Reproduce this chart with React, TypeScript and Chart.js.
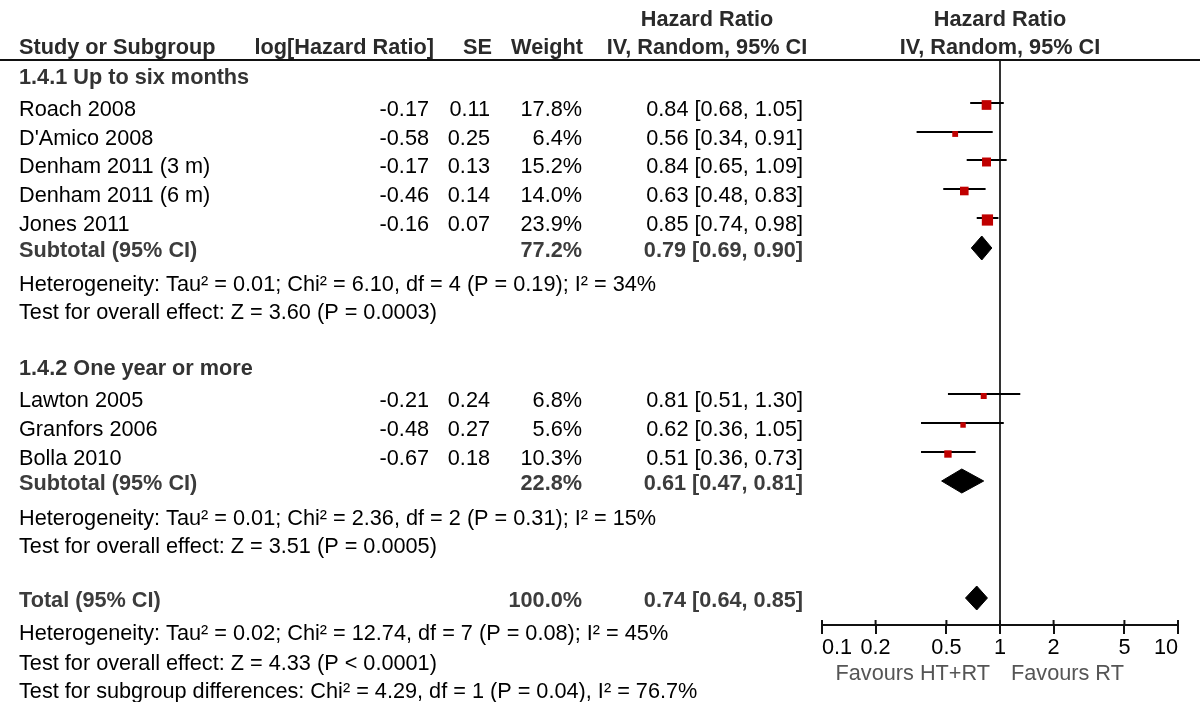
import { useEffect, useRef } from "react";
import { Chart, registerables } from "chart.js";

Chart.register(...registerables);

// ---------------- data ----------------
const GROUP_TITLES = ["1.4.1 Up to six months", "1.4.2 One year or more"];
const STUDY_NAMES = [
  "Roach 2008",
  "D'Amico 2008",
  "Denham 2011 (3 m)",
  "Denham 2011 (6 m)",
  "Jones 2011",
  "Lawton 2005",
  "Granfors 2006",
  "Bolla 2010",
];
const STUDY_GROUP = [0, 0, 0, 0, 0, 1, 1, 1];
const LOG_HR = [-0.17, -0.58, -0.17, -0.46, -0.16, -0.21, -0.48, -0.67];
const SE = [0.11, 0.25, 0.13, 0.14, 0.07, 0.24, 0.27, 0.18];
const WEIGHT = [17.8, 6.4, 15.2, 14.0, 23.9, 6.8, 5.6, 10.3];
const HR = [0.84, 0.56, 0.84, 0.63, 0.85, 0.81, 0.62, 0.51];
const CI_LOW = [0.68, 0.34, 0.65, 0.48, 0.74, 0.51, 0.36, 0.36];
const CI_HIGH = [1.05, 0.91, 1.09, 0.83, 0.98, 1.3, 1.05, 0.73];

const POOLED_LABELS = ["Subtotal (95% CI)", "Subtotal (95% CI)", "Total (95% CI)"];
const POOLED_WEIGHT = [77.2, 22.8, 100.0];
const POOLED_HR = [0.79, 0.61, 0.74];
const POOLED_LOW = [0.69, 0.47, 0.64];
const POOLED_HIGH = [0.9, 0.81, 0.85];

const HETEROGENEITY = [
  "Heterogeneity: Tau² = 0.01; Chi² = 6.10, df = 4 (P = 0.19); I² = 34%",
  "Heterogeneity: Tau² = 0.01; Chi² = 2.36, df = 2 (P = 0.31); I² = 15%",
  "Heterogeneity: Tau² = 0.02; Chi² = 12.74, df = 7 (P = 0.08); I² = 45%",
];
const OVERALL_EFFECT = [
  "Test for overall effect: Z = 3.60 (P = 0.0003)",
  "Test for overall effect: Z = 3.51 (P = 0.0005)",
  "Test for overall effect: Z = 4.33 (P < 0.0001)",
];
const SUBGROUP_DIFF = "Test for subgroup differences: Chi² = 4.29, df = 1 (P = 0.04), I² = 76.7%";

const X_TICKS = [0.1, 0.2, 0.5, 1, 2, 5, 10];
const FAVOURS = ["Favours HT+RT", "Favours RT"];
const HEADERS = ["Study or Subgroup", "log[Hazard Ratio]", "SE", "Weight", "Hazard Ratio", "IV, Random, 95% CI"];

// ---------------- layout (pixels) ----------------
const FONT = '"Liberation Sans", Arial, Helvetica, sans-serif';
const FS = 21.7;
const L = {
  header1: 26,
  header2: 54,
  rule: 60,
  groupTitle: [84, 375],
  studies: [116, 145, 173, 202, 231, 407, 436, 465],
  pooled: [257, 490, 607],
  het: [291, 525, 640],
  effect: [319, 553, 670],
  subgroupDiff: 698,
  colName: 19,
  colLog: 429,
  colSE: 490,
  colWeight: 582,
  colCI: 803,
  colHeaderCI: 707,
  plotLeft: 822,
  plotRight: 1178,
  plotBottom: 625,
};
const STUDY_MARK_OFFSET = -13;
const SQUARE_SHIFT = 2;
const POOLED_MARK_OFFSET = -9;
const DIAMOND_HALF = 12;

const f2 = (v: number) => v.toFixed(2);
const ciText = (e: number, lo: number, hi: number) => `${f2(e)} [${f2(lo)}, ${f2(hi)}]`;

const squareData = HR.map((v, i) => ({ x: v, y: L.studies[i] + STUDY_MARK_OFFSET + SQUARE_SHIFT }));
const squareRadius = WEIGHT.map((w) => (2.3 * Math.sqrt(w)) / Math.SQRT2);

const ciDatasets = HR.map((_, i) => ({
  data: [
    { x: CI_LOW[i], y: L.studies[i] + STUDY_MARK_OFFSET },
    { x: CI_HIGH[i], y: L.studies[i] + STUDY_MARK_OFFSET },
  ],
  showLine: true,
  borderColor: "#000",
  borderWidth: 2,
  pointRadius: 0,
  fill: false,
  order: 2,
}));

const diamondDatasets = POOLED_HR.map((e, i) => {
  const y = L.pooled[i] + POOLED_MARK_OFFSET;
  return {
    data: [
      { x: POOLED_LOW[i], y },
      { x: e, y: y - DIAMOND_HALF },
      { x: POOLED_HIGH[i], y },
      { x: e, y: y + DIAMOND_HALF },
      { x: POOLED_LOW[i], y },
    ],
    showLine: true,
    borderColor: "#000",
    backgroundColor: "#000",
    borderWidth: 1,
    pointRadius: 0,
    tension: 0,
    fill: "shape",
    order: 1,
  };
});

const forestPlugin = {
  id: "forestDecor",
  beforeDatasetsDraw(chart: any) {
    const { ctx, chartArea, scales } = chart;
    const x1 = scales.x.getPixelForValue(1);
    ctx.save();
    ctx.strokeStyle = "#333";
    ctx.lineWidth = 2;
    ctx.beginPath();
    ctx.moveTo(x1, L.rule);
    ctx.lineTo(x1, chartArea.bottom);
    ctx.stroke();
    ctx.restore();
  },
  afterDraw(chart: any) {
    const { ctx, chartArea, scales } = chart;
    const xs = scales.x;
    const x1 = xs.getPixelForValue(1);
    ctx.save();
    // upward tick halves
    ctx.strokeStyle = "#111";
    ctx.lineWidth = 2;
    X_TICKS.forEach((v) => {
      const px = xs.getPixelForValue(v);
      ctx.beginPath();
      ctx.moveTo(px, chartArea.bottom - 5);
      ctx.lineTo(px, chartArea.bottom);
      ctx.stroke();
    });
    // header rule
    ctx.fillStyle = "#111";
    ctx.fillRect(0, L.rule - 1, 1200, 2);

    const t = (s: string, x: number, y: number, align: CanvasTextAlign, bold: boolean, color: string) => {
      ctx.font = `${bold ? "bold " : ""}${FS}px ${FONT}`;
      ctx.textAlign = align;
      ctx.textBaseline = "alphabetic";
      ctx.fillStyle = color;
      ctx.fillText(s, x, y);
    };
    const HC = "#2a2a2a";
    const TC = "#000";
    const SC = "#3c3c3c";

    // headers
    t(HEADERS[0], L.colName, L.header2, "left", true, HC);
    t(HEADERS[1], L.colLog + 5, L.header2, "right", true, HC);
    t(HEADERS[2], L.colSE + 2, L.header2, "right", true, HC);
    t(HEADERS[3], L.colWeight + 1, L.header2, "right", true, HC);
    t(HEADERS[4], L.colHeaderCI, L.header1, "center", true, HC);
    t(HEADERS[5], L.colHeaderCI, L.header2, "center", true, HC);
    t(HEADERS[4], x1, L.header1, "center", true, HC);
    t(HEADERS[5], x1, L.header2, "center", true, HC);

    for (let g = 0; g < 2; g++) {
      t(GROUP_TITLES[g], L.colName, L.groupTitle[g], "left", true, "#333");
      STUDY_NAMES.forEach((name, i) => {
        if (STUDY_GROUP[i] !== g) return;
        const y = L.studies[i];
        t(name, L.colName, y, "left", false, TC);
        t(f2(LOG_HR[i]), L.colLog, y, "right", false, TC);
        t(f2(SE[i]), L.colSE, y, "right", false, TC);
        t(`${WEIGHT[i].toFixed(1)}%`, L.colWeight, y, "right", false, TC);
        t(ciText(HR[i], CI_LOW[i], CI_HIGH[i]), L.colCI, y, "right", false, TC);
      });
      t(POOLED_LABELS[g], L.colName, L.pooled[g], "left", true, SC);
      t(`${POOLED_WEIGHT[g].toFixed(1)}%`, L.colWeight, L.pooled[g], "right", true, SC);
      t(ciText(POOLED_HR[g], POOLED_LOW[g], POOLED_HIGH[g]), L.colCI, L.pooled[g], "right", true, SC);
      t(HETEROGENEITY[g], L.colName, L.het[g], "left", false, TC);
      t(OVERALL_EFFECT[g], L.colName, L.effect[g], "left", false, TC);
    }
    t(POOLED_LABELS[2], L.colName, L.pooled[2], "left", true, SC);
    t(`${POOLED_WEIGHT[2].toFixed(1)}%`, L.colWeight, L.pooled[2], "right", true, SC);
    t(ciText(POOLED_HR[2], POOLED_LOW[2], POOLED_HIGH[2]), L.colCI, L.pooled[2], "right", true, SC);
    t(HETEROGENEITY[2], L.colName, L.het[2], "left", false, TC);
    t(OVERALL_EFFECT[2], L.colName, L.effect[2], "left", false, TC);
    t(SUBGROUP_DIFF, L.colName, L.subgroupDiff, "left", false, TC);

    // favours labels
    t(FAVOURS[0], x1 - 10, 680, "right", false, "#555");
    t(FAVOURS[1], x1 + 11, 680, "left", false, "#555");
    ctx.restore();
  },
};

export default function App() {
  const ref = useRef<HTMLCanvasElement>(null);
  useEffect(() => {
    const canvas = ref.current;
    if (!canvas) return;
    const chart = new Chart(canvas, {
      type: "scatter",
      data: {
        datasets: [
          {
            data: squareData,
            pointStyle: "rect",
            pointRadius: squareRadius,
            pointBackgroundColor: "#c00000",
            pointBorderWidth: 0,
            pointBorderColor: "#c00000",
            showLine: false,
            order: 0,
          } as any,
          ...(ciDatasets as any[]),
          ...(diamondDatasets as any[]),
        ],
      },
      options: {
        animation: false,
        responsive: false,
        devicePixelRatio: 1,
        events: [],
        layout: {
          padding: { left: L.plotLeft, right: 1200 - L.plotRight, top: L.rule, bottom: 0 },
        },
        plugins: { legend: { display: false }, tooltip: { enabled: false } },
        scales: {
          x: {
            type: "logarithmic",
            position: "bottom",
            min: 0.1,
            max: 10,
            afterBuildTicks: (s: any) => {
              s.ticks = X_TICKS.map((v) => ({ value: v }));
            },
            afterFit: (s: any) => {
              s.height = 702 - L.plotBottom;
            },
            ticks: {
              callback: (v: any) => String(v),
              color: "#000",
              font: { family: FONT, size: FS },
              padding: 1,
              align: "inner",
              maxRotation: 0,
              autoSkip: false,
            },
            grid: { drawOnChartArea: false, drawTicks: true, tickLength: 9, color: "#111", lineWidth: 2 },
            border: { display: true, color: "#111", width: 2 },
          },
          y: {
            type: "linear",
            display: false,
            min: L.rule,
            max: L.plotBottom,
            reverse: true,
          },
        },
      } as any,
      plugins: [forestPlugin],
    });
    return () => chart.destroy();
  }, []);
  return (
    <div style={{ position: "fixed", left: 0, top: 0, width: 1200, height: 702, background: "#fff" }}>
      <canvas ref={ref} width={1200} height={702} style={{ display: "block", width: 1200, height: 702 }} />
    </div>
  );
}
